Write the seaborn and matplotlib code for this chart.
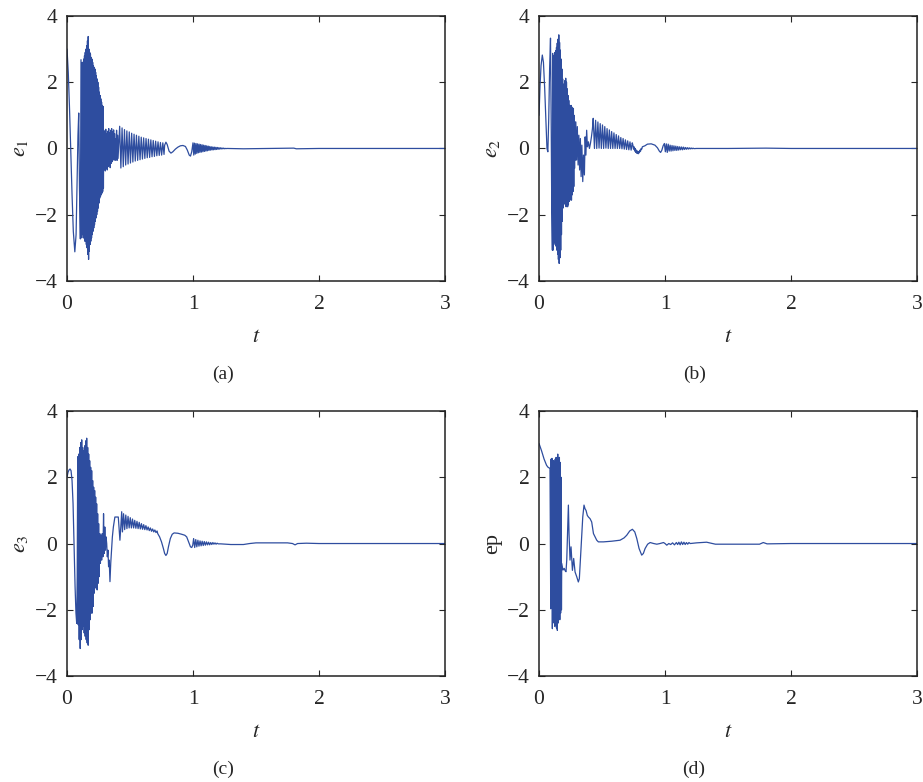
import numpy as np
import pandas as pd
import seaborn as sns
import matplotlib.pyplot as plt

# ---------------- data ----------------
# smooth pieces: (t, value) knots; fast oscillations: (t_start, t_end, values)

e1_t = [0.0, 0.01, 0.02, 0.03, 0.04, 0.05, 0.062, 0.072, 0.08, 0.087, 0.093, 0.099,
        0.106, 0.111, 0.116, 0.121, 0.125,
        0.775, 0.785, 0.795, 0.81, 0.825, 0.84, 0.86, 0.88, 0.9, 0.92, 0.94, 0.955,
        0.97, 0.98, 0.99,
        1.27, 1.4, 1.6, 1.8, 1.82, 2.0, 2.5, 3.0]
e1_v = [3.0, 2.3, 1.2, -0.1, -1.4, -2.5, -3.12, -2.6, -1.0, 0.4, 1.07, -1.2,
        -2.73, 2.68, -2.7, 2.6, -2.6,
        0.1, 0.19, 0.12, -0.08, -0.14, -0.1, -0.02, 0.04, 0.08, 0.09, 0.06, -0.05,
        -0.2, -0.23, -0.1,
        0.0, -0.01, 0.0, 0.01, -0.01, 0.0, 0.0, 0.0]
e1_burst = [2.6, -2.7, 2.7, -2.7, 2.8, -2.8, 2.9, -2.8, 3.0, -2.9, 3.1, -3.0,
            3.25, -3.2, 3.38, -3.35, 3.0, -3.1, 2.9, -2.9, 2.85, -2.8, 2.75, -2.7,
            2.7, -2.6, 2.6, -2.5, 2.5, -2.4, 2.45, -2.3, 2.4, -2.2, 2.3, -2.1,
            2.2, -2.0, 2.1, -1.9, 2.0, -1.8, 1.85, -1.65, 1.7, -1.5, 1.6, -1.45,
            1.5, -1.4, 1.4, -1.35, 1.3, -1.3, 1.27, -1.2]
e1_ring = [0.55, -0.62, 0.5, -0.68, 0.58, -0.6, 0.45, -0.65, 0.52, -0.55, 0.6, -0.5,
           0.48, -0.58, 0.55, -0.45, 0.6, -0.4, 0.5, -0.35, 0.56, -0.3, 0.45, -0.36,
           0.3, -0.2, 0.55, -0.36, 0.4, -0.3]
e1_decay = [0.67, -0.59, 0.62, -0.55, 0.57, -0.5, 0.53, -0.47, 0.5, -0.44, 0.46, -0.41,
            0.43, -0.38, 0.4, -0.36, 0.37, -0.34, 0.34, -0.32, 0.32, -0.3, 0.3, -0.28,
            0.28, -0.27, 0.26, -0.25, 0.24, -0.24, 0.22, -0.22, 0.2, -0.21, 0.18, -0.2,
            0.17, -0.18]
e1_tail = [0.17, -0.2, 0.16, -0.17, 0.15, -0.15, 0.14, -0.13, 0.13, -0.12, 0.12, -0.11,
           0.11, -0.1, 0.1, -0.09, 0.09, -0.08, 0.08, -0.07, 0.07, -0.06, 0.06, -0.05,
           0.05, -0.045, 0.045, -0.04, 0.04, -0.035, 0.035, -0.03, 0.03, -0.025,
           0.025, -0.02, 0.02, -0.015, 0.015, -0.01, 0.01, -0.01, 0.005, -0.005]
e1_osc = [(0.127, 0.289, e1_burst), (0.292, 0.405, e1_ring),
          (0.418, 0.77, e1_decay), (1.0, 1.26, e1_tail)]

e2_t = [0.0, 0.008, 0.016, 0.026, 0.035, 0.045, 0.055, 0.063, 0.07, 0.077, 0.084,
        0.091, 0.096, 0.101, 0.106,
        0.292, 0.298, 0.304, 0.31, 0.316, 0.322, 0.328, 0.334, 0.340, 0.347, 0.353,
        0.36, 0.366, 0.372, 0.378, 0.384, 0.392, 0.40, 0.408, 0.416, 0.424, 0.43,
        0.84, 0.86, 0.89, 0.92, 0.94, 0.955, 0.965, 0.975, 0.985,
        1.25, 1.5, 1.8, 2.0, 3.0]
e2_v = [1.0, 1.9, 2.5, 2.82, 2.6, 1.8, 0.8, 0.0, -0.1, 0.9, 2.4,
        3.33, 1.0, -1.8, -3.07,
        0.8, -0.35, 0.66, -0.5, 0.4, -0.65, 0.3, -0.85, 0.1, -1.0, -0.2,
        -0.8, 0.35, -0.2, 0.55, 0.05, 0.2, 0.0, 0.15, 0.35, 0.6, 0.91,
        0.08, 0.13, 0.14, 0.1, 0.02, -0.08, -0.12, -0.05, 0.08,
        0.0, 0.0, 0.01, 0.0, 0.0]
e2_burst = [2.87, -3.07, 2.8, -2.9, 2.75, -2.77, 2.9, -2.85, 2.95, -2.95, 3.05, -3.07,
            3.18, -3.2, 3.3, -3.35, 3.43, -3.47, 3.2, -3.3, 2.97, -3.07, 2.7, -2.6,
            2.4, -2.2, 2.1, -1.8, 1.87, -1.6, 1.95, -1.65, 2.05, -1.7, 2.12, -1.76,
            2.0, -1.7, 1.8, -1.76, 1.6, -1.7, 1.45, -1.6, 1.3, -1.56, 1.26, -1.5,
            1.3, -1.56, 1.25, -1.4, 1.2, -1.3, 1.21, -1.15, 1.0, -0.6, 0.8, -0.35]
e2_decay = [0.0, 0.85, 0.0, 0.8, 0.01, 0.75, 0.0, 0.71, 0.0, 0.66, 0.01, 0.6,
            0.0, 0.56, 0.0, 0.51, 0.0, 0.47, 0.0, 0.42, 0.0, 0.38, 0.0, 0.33,
            -0.01, 0.3, -0.02, 0.26, -0.03, 0.23, -0.04, 0.2, -0.05, 0.17]
e2_dip = [0.1, -0.02, 0.05, -0.08, 0.0, -0.12, -0.05, -0.15, -0.08, -0.16, -0.1,
          -0.13, -0.05, -0.08, 0.0, -0.02, 0.05]
e2_tail = [0.15, -0.1, 0.14, -0.12, 0.13, -0.08, 0.1, -0.08, 0.09, -0.07, 0.08, -0.06,
           0.07, -0.06, 0.06, -0.05, 0.05, -0.04, 0.045, -0.04, 0.04, -0.03, 0.03,
           -0.025, 0.025, -0.02, 0.02, -0.015, 0.015, -0.01, 0.01, -0.005]
e2_osc = [(0.108, 0.288, e2_burst), (0.44, 0.74, e2_decay),
          (0.745, 0.82, e2_dip), (0.995, 1.23, e2_tail)]

e3_t = [0.0, 0.008, 0.016, 0.024, 0.032, 0.04, 0.048, 0.056, 0.064, 0.071, 0.077, 0.081,
        0.26, 0.265, 0.27, 0.275, 0.28, 0.285, 0.29, 0.295, 0.3, 0.305, 0.31, 0.315,
        0.32, 0.325, 0.33, 0.335, 0.341, 0.347, 0.352, 0.36, 0.368, 0.38, 0.395,
        0.407, 0.414, 0.42, 0.427, 0.434,
        0.72, 0.735, 0.75, 0.765, 0.775, 0.785, 0.795, 0.805, 0.82, 0.835, 0.85, 0.88,
        0.91, 0.935, 0.95, 0.965, 0.98, 0.99, 0.998,
        1.22, 1.3, 1.4, 1.45, 1.5, 1.6, 1.75, 1.79, 1.81, 1.83, 1.9, 2.0, 3.0]
e3_v = [2.0, 2.15, 2.22, 2.25, 2.2, 1.9, 1.2, 0.0, -1.3, -2.1, -2.41, -1.0,
        0.3, -0.6, 0.25, -0.5, 0.3, -0.4, 0.9, -0.3, 0.5, -0.2, 0.2, 0.0,
        -0.4, -0.2, -0.7, -0.5, -1.15, -0.6, -0.3, 0.2, 0.5, 0.8, 0.8,
        0.8, 0.4, 0.1, 0.5, 0.96,
        0.3, 0.2, 0.05, -0.15, -0.3, -0.36, -0.3, -0.1, 0.15, 0.28, 0.32, 0.31,
        0.28, 0.25, 0.2, 0.05, -0.1, -0.12, -0.05,
        -0.01, -0.03, -0.03, 0.0, 0.02, 0.02, 0.02, 0.0, -0.04, 0.0, 0.01, 0.0, 0.0]
e3_burst = [2.62, -2.45, 2.7, -2.9, 2.9, -3.17, 3.05, -2.9, 3.13, -2.6, 2.9, -2.5,
            2.8, -2.7, 2.95, -2.8, 3.1, -2.9, 3.18, -3.0, 2.9, -3.07, 2.7, -2.6,
            2.5, -2.3, 2.3, -2.1, 2.2, -2.1, 1.9, -1.9, 1.7, -1.5, 1.6, -1.3,
            1.4, -1.35, 1.2, -1.4, 0.9, -1.2, 0.6, -1.0]
e3_decay = [0.35, 0.9, 0.42, 0.86, 0.45, 0.82, 0.47, 0.78, 0.47, 0.74, 0.47, 0.7,
            0.46, 0.67, 0.45, 0.64, 0.44, 0.6, 0.43, 0.57, 0.42, 0.54, 0.41, 0.5,
            0.39, 0.47, 0.37, 0.44, 0.35, 0.41, 0.33, 0.38]
e3_tail = [0.15, -0.12, 0.12, -0.1, 0.1, -0.08, 0.08, -0.07, 0.07, -0.06, 0.06, -0.05,
           0.05, -0.04, 0.04, -0.04, 0.03, -0.03, 0.03, -0.02, 0.02, -0.02, 0.01, -0.01]
e3_osc = [(0.085, 0.255, e3_burst), (0.44, 0.715, e3_decay), (1.005, 1.2, e3_tail)]

ep_t = [0.0, 0.02, 0.04, 0.06, 0.072, 0.082, 0.087, 0.093,
        0.18, 0.19, 0.2, 0.207, 0.214, 0.22, 0.227, 0.233, 0.238, 0.246, 0.254, 0.265,
        0.275, 0.286, 0.299, 0.312, 0.32, 0.334, 0.347, 0.357, 0.365, 0.373, 0.383,
        0.392, 0.405, 0.418, 0.432, 0.445, 0.458, 0.471, 0.511, 0.577, 0.643, 0.675,
        0.696, 0.72, 0.741, 0.76, 0.776, 0.794, 0.815, 0.828, 0.842, 0.862, 0.882,
        0.91, 0.935, 0.96, 0.988, 1.0, 1.014, 1.03, 1.045, 1.06, 1.075, 1.09, 1.1,
        1.11, 1.12, 1.13, 1.14, 1.15, 1.16, 1.17, 1.18, 1.19, 1.2, 1.25, 1.33, 1.4,
        1.6, 1.75, 1.78, 1.81, 2.0, 2.5, 3.0]
ep_v = [3.02, 2.8, 2.55, 2.36, 2.3, 2.28, 2.27, -1.97,
        -0.6, -0.8, -0.75, -0.82, -0.85, -0.5, 0.4, 1.16, 0.3, -0.5, -0.1, -0.81,
        -0.45, -0.86, -1.0, -1.16, -1.06, -0.1, 0.8, 1.16, 1.05, 1.0, 0.85,
        0.8, 0.75, 0.65, 0.3, 0.2, 0.1, 0.05, 0.05, 0.07, 0.1, 0.17,
        0.25, 0.38, 0.43, 0.35, 0.15, -0.15, -0.35, -0.3, -0.15, -0.02, 0.03,
        0.0, -0.02, 0.0, 0.03, 0.0, -0.05, 0.0, -0.03, 0.02, -0.04, 0.03, -0.03,
        0.04, -0.04, 0.05, -0.03, 0.04, -0.03, 0.03, -0.02, 0.03, 0.0, 0.02, 0.04, -0.02,
        -0.02, -0.02, 0.03, -0.01, 0.0, 0.0, 0.0]
ep_burst = [2.55, -0.6, 2.57, -2.57, 2.4, -2.0, 2.5, -2.4, 2.45, -2.5, 2.55, -2.3,
            2.6, -2.55, 2.5, -2.62, 2.7, -2.4, 2.55, -2.2, 2.6, -2.3, 2.45, -2.1,
            2.0, -2.0]
ep_osc = [(0.096, 0.178, ep_burst)]

panels = [("$e_1$", e1_t, e1_v, e1_osc, "(a)"),
          ("$e_2$", e2_t, e2_v, e2_osc, "(b)"),
          ("$e_3$", e3_t, e3_v, e3_osc, "(c)"),
          ("ep", ep_t, ep_v, ep_osc, "(d)")]


def build(knot_t, knot_v, osc):
    t = list(knot_t)
    v = list(knot_v)
    for t0, t1, vals in osc:
        t += list(np.linspace(t0, t1, len(vals)))
        v += list(vals)
    df = pd.DataFrame({"t": t, "v": v})
    return df.sort_values("t", kind="stable").reset_index(drop=True)


sns.set_style("ticks")
plt.rcParams["font.family"] = ["Liberation Serif", "DejaVu Serif"]
plt.rcParams["mathtext.fontset"] = "stix"
plt.rcParams["font.size"] = 14

line_color = "#2e4d9f"

fig = plt.figure(figsize=(9.23, 7.82), dpi=100)
lefts = [0.0726, 0.584, 0.0726, 0.584]
bottoms = [0.6407, 0.6407, 0.1355, 0.1355]
cap_x = [0.242, 0.752, 0.242, 0.752]
cap_y = [0.51, 0.51, 0.005, 0.005]

for i, (ylab, kt, kv, osc, cap) in enumerate(panels):
    ax = fig.add_axes([lefts[i], bottoms[i], 0.4095, 0.3389])
    df = build(kt, kv, osc)
    sns.lineplot(data=df, x="t", y="v", estimator=None, sort=False, ax=ax,
                 color=line_color, linewidth=0.9)
    ax.set_xlim(0, 3)
    ax.set_ylim(-4, 4)
    ax.set_xticks([0, 1, 2, 3])
    ax.set_yticks([-4, -2, 0, 2, 4])
    ax.tick_params(direction="in", top=True, right=True, length=4, width=0.8,
                   labelsize=15.5, pad=7)
    ax.tick_params(axis="x", pad=10)
    for s in ax.spines.values():
        s.set_linewidth(1.1)
        s.set_color("#222222")
    ax.set_xlabel("$t$", fontsize=16, labelpad=10)
    ax.set_ylabel(ylab, fontsize=16, labelpad=3)
    fig.text(cap_x[i], cap_y[i], cap, ha="center", va="bottom", fontsize=14)

fig.savefig("out.png", dpi=100)
